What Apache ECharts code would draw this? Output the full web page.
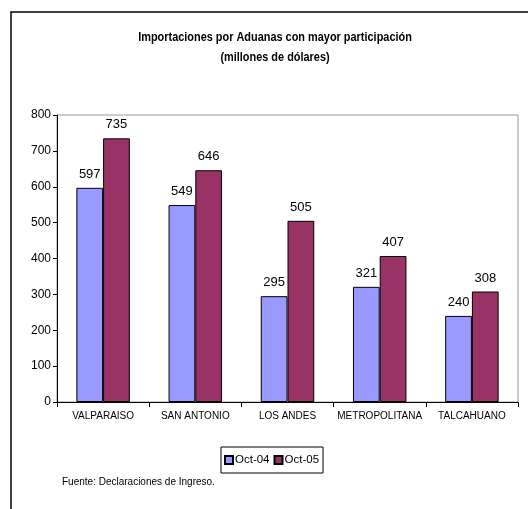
<!DOCTYPE html>
<html>
<head>
<meta charset="utf-8">
<script src="https://cdn.jsdelivr.net/npm/echarts@6/dist/echarts.min.js"></script>
<style>
  html, body { margin: 0; padding: 0; background: #fff; }
  #chart { width: 528px; height: 509px; }
</style>
</head>
<body>
<div id="chart"></div>
<script>
// datos
const categorias = ['VALPARAISO', 'SAN ANTONIO', 'LOS ANDES', 'METROPOLITANA', 'TALCAHUANO']
const oct04 = [597, 549, 295, 321, 240]
const oct05 = [735, 646, 505, 407, 308]
const nombresSeries = ['Oct-04', 'Oct-05']
const titulo = ['Importaciones por Aduanas con mayor participación', '(millones de dólares)']

const fuente = 'Liberation Sans, Arial, sans-serif'

const chart = echarts.init(document.getElementById('chart'))

const etiqueta = {
  show: true,
  position: 'top',
  distance: 7,
  color: '#000',
  fontSize: 13,
  fontFamily: fuente
}

// texto del titulo algo comprimido, como en la fuente original
const lineaTitulo = (texto, y) => ({
  type: 'text',
  x: 275,
  y: y,
  scaleX: 0.84,
  silent: true,
  style: {
    text: texto,
    align: 'center',
    verticalAlign: 'middle',
    fontSize: 13,
    fontWeight: 'bold',
    fontFamily: fuente,
    fill: '#000'
  }
})

const option = {
  animation: false,
  backgroundColor: '#fff',
  legend: {
    data: nombresSeries,
    left: 221,
    top: 447,
    icon: 'rect',
    itemWidth: 8,
    itemHeight: 8,
    itemGap: 4,
    padding: [7, 4, 7, 3],
    borderColor: '#000',
    borderWidth: 1,
    textStyle: { fontSize: 11.5, fontFamily: fuente, color: '#000', padding: [0, 0, 0, -3] }
  },
  grid: {
    left: 57,
    right: 10,
    top: 115,
    bottom: 107,
    show: true,
    borderColor: '#999',
    borderWidth: 1
  },
  xAxis: {
    type: 'category',
    data: categorias,
    axisLine: { lineStyle: { color: '#000', width: 1 } },
    axisTick: { show: true, alignWithLabel: false, length: 5, lineStyle: { color: '#000' } },
    axisLabel: { fontSize: 10, fontFamily: fuente, color: '#000', margin: 9, interval: 0 }
  },
  yAxis: {
    type: 'value',
    min: 0,
    max: 800,
    interval: 100,
    splitLine: { show: false },
    axisLine: { show: true, lineStyle: { color: '#000', width: 1 } },
    axisTick: { show: true, length: 4, lineStyle: { color: '#000' } },
    axisLabel: { fontSize: 12, fontFamily: fuente, color: '#000', margin: 6 }
  },
  series: [
    {
      name: nombresSeries[0],
      type: 'bar',
      data: oct04,
      barGap: '0%',
      barCategoryGap: '42%',
      itemStyle: { color: '#9999FF', borderColor: '#000', borderWidth: 1 },
      label: etiqueta
    },
    {
      name: nombresSeries[1],
      type: 'bar',
      data: oct05,
      itemStyle: { color: '#993366', borderColor: '#000', borderWidth: 1 },
      label: etiqueta
    }
  ],
  graphic: [
    {
      type: 'rect',
      shape: { x: 11, y: 12, width: 530, height: 520 },
      style: { fill: 'none', stroke: '#000', lineWidth: 1.5 },
      silent: true
    },
    lineaTitulo(titulo[0], 37),
    lineaTitulo(titulo[1], 57),
    {
      type: 'text',
      left: 62,
      top: 477,
      style: {
        text: 'Fuente: Declaraciones de Ingreso.',
        fontSize: 10,
        fontFamily: fuente,
        fill: '#000'
      }
    }
  ]
}

chart.setOption(option)
</script>
</body>
</html>
